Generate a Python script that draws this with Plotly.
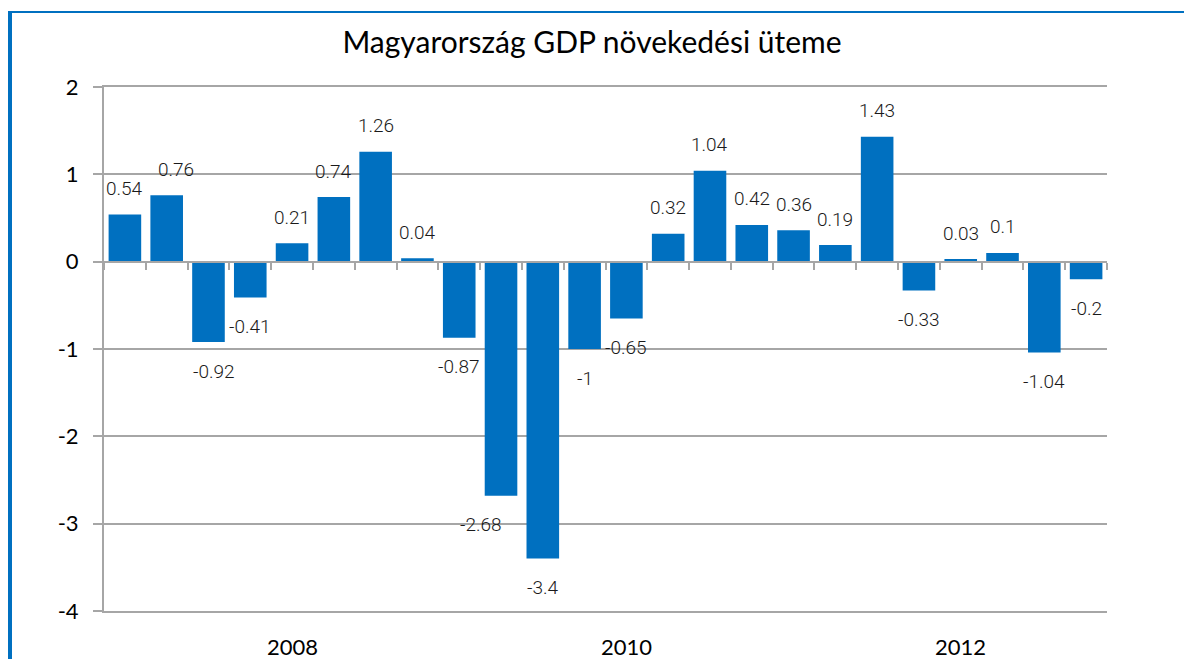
import plotly.graph_objects as go

# ---- data ----
quarters = [f"{y} Q{q}" for y in range(2007, 2013) for q in range(1, 5)]
growth = [0.54, 0.76, -0.92, -0.41, 0.21, 0.74, 1.26, 0.04,
          -0.87, -2.68, -3.4, -1.0, -0.65, 0.32, 1.04, 0.42,
          0.36, 0.19, 1.43, -0.33, 0.03, 0.1, -1.04, -0.2]
year_tick_cats = ["2008 Q1", "2010 Q1", "2012 Q1"]
year_tick_text = ["2008", "2010", "2012"]
y_tick_vals = [2, 1, 0, -1, -2, -3, -4]
y_tick_text = ["2", "1", "0", "-1", "-2", "-3", "-4"]
title_text = "Magyarország GDP növekedési üteme"

# ---- style ----
BLUE = "#0070C0"
GRID = "#A6A6A6"
label_nudge = {1: 9, 2: 6, 9: -20}  # manual horizontal nudges of data labels (px)

W, H = 1184, 659
L, R, T, B = 104, 77, 87, 48
pw, ph = W - L - R, H - T - B
ymin, ymax = -4, 2
xr = [-0.5, len(quarters) - 0.5]

fig = go.Figure()
fig.add_trace(go.Bar(
    x=quarters, y=growth, marker=dict(color=BLUE, line=dict(width=0)),
    hoverinfo="x+y", showlegend=False,
))
# invisible companion trace so the framing axis (x2) is drawn
fig.add_trace(go.Scatter(
    x=quarters, y=growth, xaxis="x2", yaxis="y", mode="markers",
    marker=dict(opacity=0), hoverinfo="skip", showlegend=False,
))

ann = []
for i, (c, v) in enumerate(zip(quarters, growth)):
    txt = f"{v:g}"
    ann.append(dict(
        x=c, y=v, xref="x", yref="y", text=txt, showarrow=False,
        xanchor="center", yanchor="middle",
        yshift=26 if v >= 0 else -29, xshift=label_nudge.get(i, 0),
        font=dict(family="Roboto", size=19, color="#1a1a1a", weight=300),
    ))
for c, t in zip(year_tick_cats, year_tick_text):
    ann.append(dict(
        x=c, y=0, xref="x", yref="paper", text=t, showarrow=False,
        xanchor="center", yanchor="top", yshift=-20,
        font=dict(family="Lato", size=22, color="#000000"),
    ))

shapes = [
    # blue frame (left and top edges)
    dict(type="line", xref="paper", yref="paper",
         x0=(10 - L) / pw, x1=(10 - L) / pw, y0=1 + (T - 12) / ph, y1=-(B + 5) / ph,
         line=dict(color=BLUE, width=4), layer="above"),
    dict(type="line", xref="paper", yref="paper",
         x0=(8 - L) / pw, x1=(W + 5 - L) / pw, y0=1 + (T - 12) / ph, y1=1 + (T - 12) / ph,
         line=dict(color=BLUE, width=2), layer="above"),
]

fig.update_layout(
    width=W, height=H,
    margin=dict(l=L, r=R, t=T, b=B, pad=0),
    paper_bgcolor="white", plot_bgcolor="white",
    bargap=0.22,
    title=dict(text=title_text, x=0.5, xref="container", xanchor="center",
               y=1 - 42 / H, yref="container", yanchor="middle",
               font=dict(family="Lato", size=30, color="#000000")),
    annotations=ann, shapes=shapes,
    xaxis=dict(
        type="category", range=xr, autorange=False,
        anchor="free", position=(0 - ymin) / (ymax - ymin), side="bottom",
        showgrid=False, zeroline=False, showline=True,
        linecolor=GRID, linewidth=2,
        ticks="outside", tickson="boundaries", ticklen=7, tickwidth=2, tickcolor=GRID,
        showticklabels=False,
    ),
    # frame lines at the top (2) and bottom (-4) gridline positions
    xaxis2=dict(
        type="category", overlaying="x", anchor="y", side="bottom",
        range=xr, autorange=False,
        showline=True, mirror=True, linecolor=GRID, linewidth=2,
        showgrid=False, zeroline=False, ticks="", showticklabels=False,
    ),
    yaxis=dict(
        range=[ymin, ymax], tickmode="array", tickvals=y_tick_vals, ticktext=y_tick_text,
        showgrid=True, gridcolor=GRID, gridwidth=2,
        zeroline=False, showline=True, linecolor=GRID, linewidth=2,
        ticks="outside", ticklen=9, tickwidth=2, tickcolor=GRID,
        ticklabelstandoff=10,
        tickfont=dict(family="Lato", size=22, color="#000000"),
    ),
)

fig.write_html("out.html", config={"displayModeBar": False},
               post_script="document.body.style.margin='0px';")
